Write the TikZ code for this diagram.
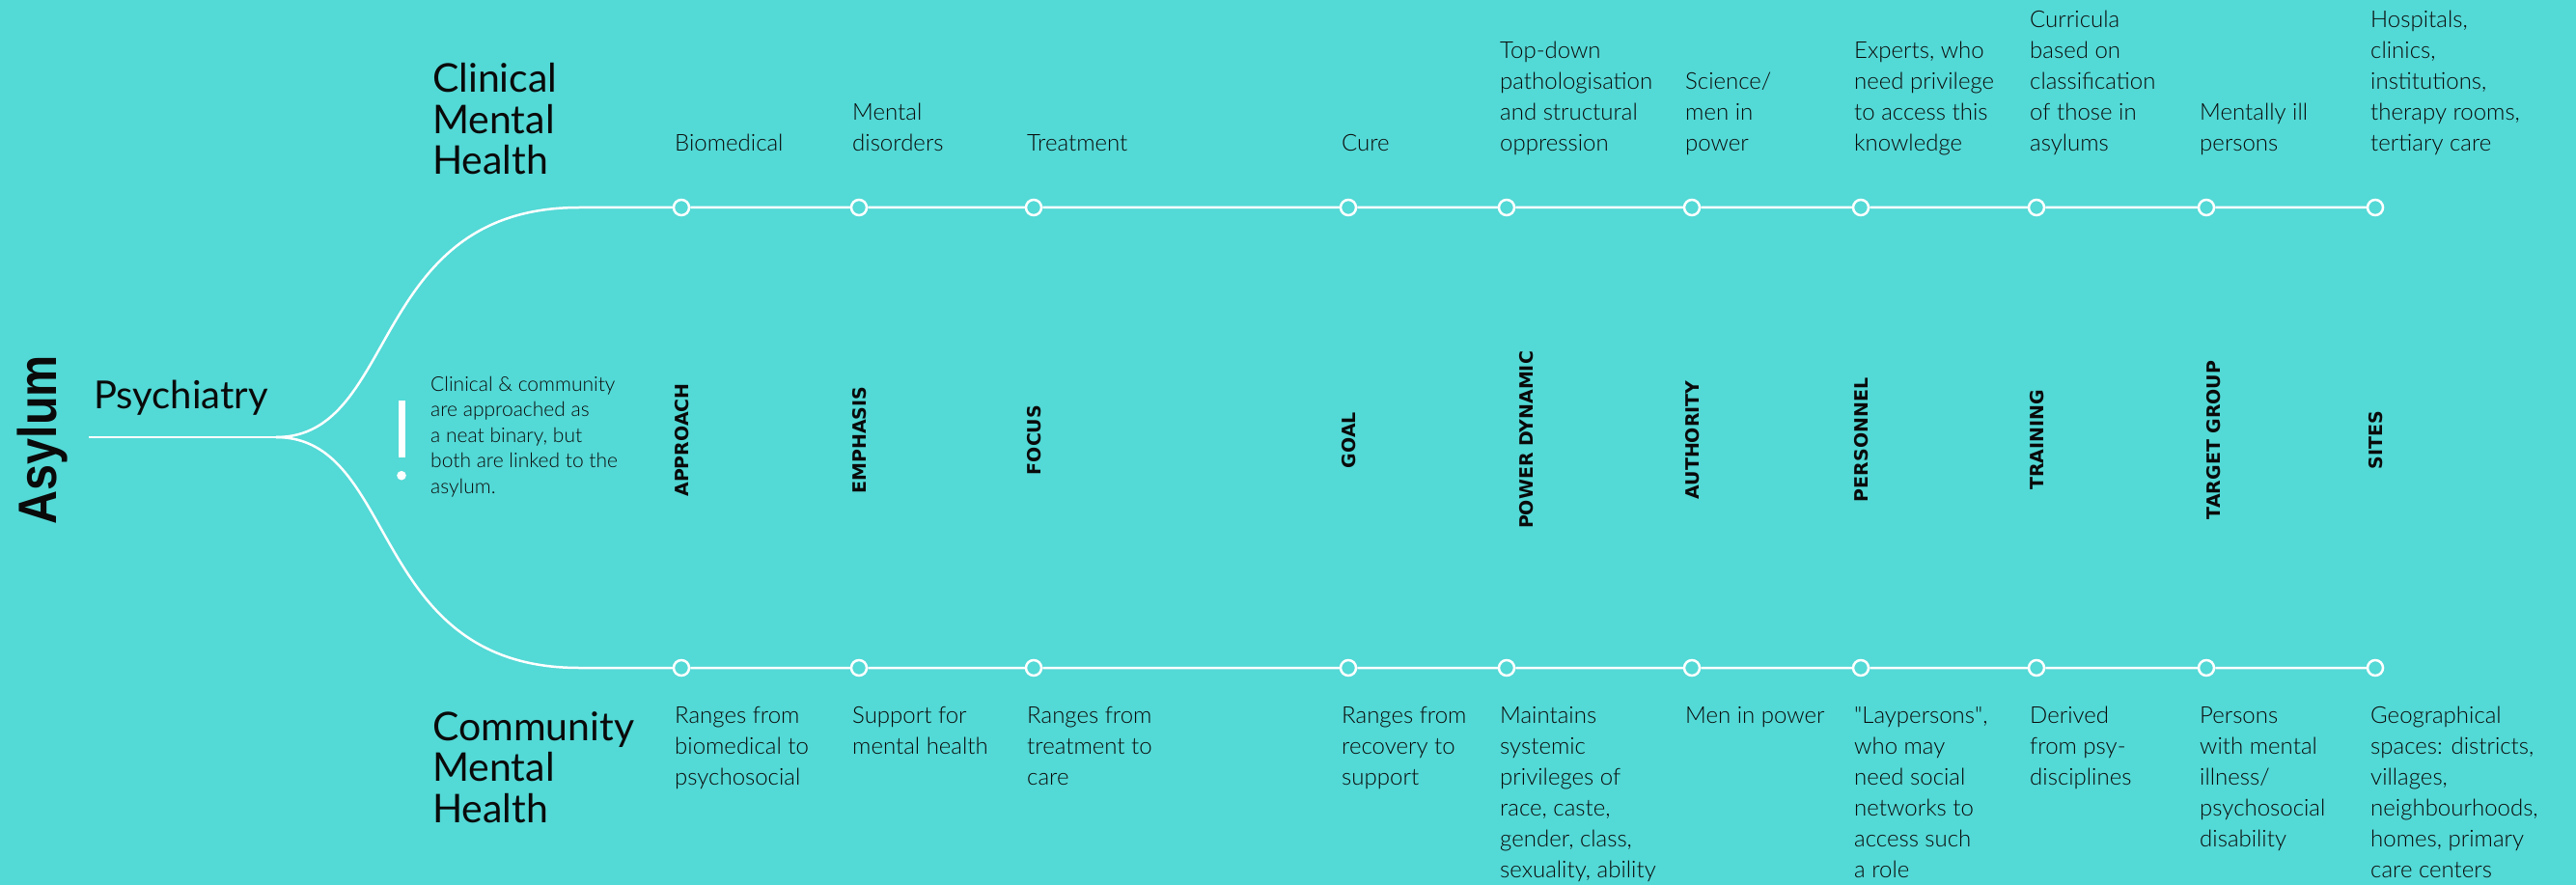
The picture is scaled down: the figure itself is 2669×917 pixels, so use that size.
\documentclass[tikz,border=0pt]{standalone}
\usepackage{fontspec}
\usepackage{graphicx}
\setmainfont{Lato Light}
\newfontfamily\labf{Liberation Sans}
\newfontfamily\vlabf{DejaVu Sans}
\newfontfamily\titf{Lato}
\definecolor{bg}{HTML}{53D9D6}
\definecolor{ink}{HTML}{0A0A0A}
\tikzset{
  toptext/.style={anchor=base west, align=left, inner sep=0pt, text=ink, font=\fontsize{24pt}{32pt}\selectfont},
  bottext/.style={anchor=base west, align=left, inner sep=0pt, text=ink, font=\fontsize{24pt}{32pt}\selectfont},
  vlab/.style={rotate=90, anchor=base, inner sep=0pt, text=ink, font=\vlabf\bfseries\fontsize{19pt}{24pt}\selectfont},
  title/.style={anchor=base west, align=left, inner sep=0pt, text=ink, font=\titf\fontsize{41pt}{42.5pt}\selectfont},
  station/.style={circle, draw=white, fill=bg, line width=2.5pt, minimum size=16pt, inner sep=0pt},
  wline/.style={draw=white, line width=2.5pt}
}
\begin{document}
\begin{tikzpicture}[x=1pt,y=-1pt]
\fill[bg] (0,0) rectangle (2669,917);
\useasboundingbox (0,0) rectangle (2669,917);

% main trunk and branches
\coordinate (s) at (92,453);
\coordinate (j) at (286,453);
\coordinate (ta) at (600,215);
\coordinate (ba) at (600,692);

\node[station] (t1) at (706,215) {};
\node[station] (t2) at (890,215) {};
\node[station] (t3) at (1071,215) {};
\node[station] (t4) at (1397,215) {};
\node[station] (t5) at (1561,215) {};
\node[station] (t6) at (1753,215) {};
\node[station] (t7) at (1928,215) {};
\node[station] (t8) at (2110,215) {};
\node[station] (t9) at (2286,215) {};
\node[station] (t10) at (2461,215) {};

\node[station] (b1) at (706,692) {};
\node[station] (b2) at (890,692) {};
\node[station] (b3) at (1071,692) {};
\node[station] (b4) at (1397,692) {};
\node[station] (b5) at (1561,692) {};
\node[station] (b6) at (1753,692) {};
\node[station] (b7) at (1928,692) {};
\node[station] (b8) at (2110,692) {};
\node[station] (b9) at (2286,692) {};
\node[station] (b10) at (2461,692) {};

\draw[wline] (s) -- (j);
\draw[wline] (j) .. controls (414,453) and (381,215) .. (ta) -- (t1) -- (t2) -- (t3) -- (t4) -- (t5) -- (t6) -- (t7) -- (t8) -- (t9) -- (t10);
\draw[wline] (j) .. controls (414,453) and (381,692) .. (ba) -- (b1) -- (b2) -- (b3) -- (b4) -- (b5) -- (b6) -- (b7) -- (b8) -- (b9) -- (b10);

% left titles
\node[rotate=90, anchor=base, inner sep=0pt, text=ink, font=\labf\bfseries\fontsize{56pt}{60pt}\selectfont] (asylum) at (58,455.5) {\scalebox{0.866}[1]{Asylum}};
\node[anchor=base west, inner sep=0pt, text=ink, font=\titf\fontsize{40pt}{44pt}\selectfont] (psy) at (97,423) {Psychiatry};
\node[title] (clin) at (448,181) {Clinical\\Mental\\Health};
\node[title] (comm) at (448,852) {Community\\Mental\\Health};

% note with exclamation mark
\fill[white] (412.5,415) rectangle (419.5,474);
\fill[white] (416,492.7) circle (4.8);
\node[anchor=base west, align=left, inner sep=0pt, text=ink, font=\fontsize{21pt}{26.6pt}\selectfont] (note) at (446,511.4) {Clinical \& community\\are approached as\\a neat binary, but\\both are linked to the\\asylum.};

% top texts (anchored at the baseline of their last line)
\node[toptext] (tt1) at (699,157) {Biomedical};
\node[toptext] (tt2) at (883,157) {Mental\\disorders};
\node[toptext] (tt3) at (1064,157) {Treatment};
\node[toptext] (tt4) at (1390,157) {Cure};
\node[toptext] (tt5) at (1554,157) {Top-down\\pathologisation\\and structural\\oppression};
\node[toptext] (tt6) at (1746,157) {Science/\\men in\\power};
\node[toptext] (tt7) at (1921,157) {Experts, who\\need privilege\\to access this\\knowledge};
\node[toptext] (tt8) at (2103,157) {Curricula\\based on\\classification\\of those in\\asylums};
\node[toptext] (tt9) at (2279,157) {Mentally ill\\persons};
\node[toptext] (tt10) at (2456,157) {Hospitals,\\clinics,\\institutions,\\therapy rooms,\\tertiary care};

% vertical category labels
\node[vlab] (v1) at (713,456) {APPROACH};
\node[vlab] (v2) at (897,456) {EMPHASIS};
\node[vlab] (v3) at (1078,456) {FOCUS};
\node[vlab] (v4) at (1404,456) {GOAL};
\node[vlab] (v5) at (1588,456) {POWER DYNAMIC};
\node[vlab] (v6) at (1760,456) {AUTHORITY};
\node[vlab] (v7) at (1935,456) {PERSONNEL};
\node[vlab] (v8) at (2117,456) {TRAINING};
\node[vlab] (v9) at (2300,456) {TARGET GROUP};
\node[vlab] (v10) at (2468,456) {SITES};

% bottom texts (anchored at the baseline of their last line)
\node[bottext] (bt1) at (699,813) {Ranges from\\biomedical to\\psychosocial};
\node[bottext] (bt2) at (883,781) {Support for\\mental health};
\node[bottext] (bt3) at (1064,813) {Ranges from\\treatment to\\care};
\node[bottext] (bt4) at (1390,813) {Ranges from\\recovery to\\support};
\node[bottext] (bt5) at (1554,909) {Maintains\\systemic\\privileges of\\race, caste,\\gender, class,\\sexuality, ability};
\node[bottext] (bt6) at (1746,749) {Men in power};
\node[bottext] (bt7) at (1921,909) {\textquotedbl Laypersons\textquotedbl,\\who may\\need social\\networks to\\access such\\a role};
\node[bottext] (bt8) at (2103,813) {Derived\\from psy-\\disciplines};
\node[bottext] (bt9) at (2279,877) {Persons\\with mental\\illness/\\psychosocial\\disability};
\node[bottext] (bt10) at (2456,909) {Geographical\\spaces: districts,\\villages,\\neighbourhoods,\\homes, primary\\care centers};
\end{tikzpicture}
\end{document}
